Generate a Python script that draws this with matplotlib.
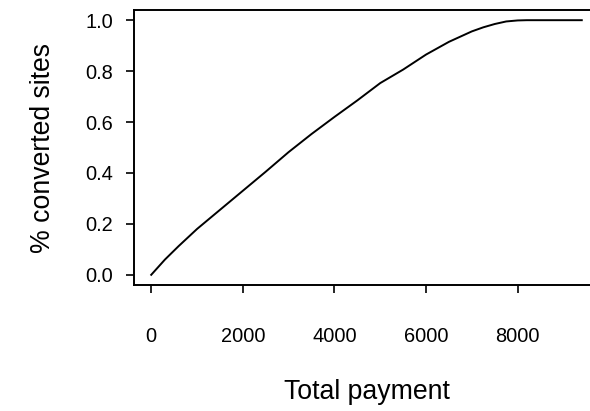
import matplotlib
matplotlib.use("Agg")
import matplotlib.pyplot as plt

plt.rcParams['font.family'] = ['Liberation Sans', 'DejaVu Sans']

payment = [0, 300, 600, 1000, 1500, 2000, 2500, 3000, 3500, 4000, 4500,
           5000, 5500, 6000, 6500, 7000, 7250, 7500, 7750, 8000, 8200, 9400]
converted = [0.0, 0.06, 0.113, 0.18, 0.255, 0.33, 0.405, 0.482, 0.553, 0.62, 0.685,
             0.753, 0.806, 0.865, 0.915, 0.956, 0.972, 0.985, 0.995, 0.999, 1.0, 1.0]
xticks = [0, 2000, 4000, 6000, 8000]
yticks = [0.0, 0.2, 0.4, 0.6, 0.8, 1.0]

fig = plt.figure(figsize=(5.9, 4.11), dpi=100)
ax = fig.add_axes([134/590, 1 - 285/411, (599 - 134)/590, (285 - 10)/411])

ax.plot(payment, converted, color='black', lw=1.4)

# R style 4% padding
xr = max(payment) - min(payment)
ax.set_xlim(min(payment) - 0.04*xr, max(payment) + 0.04*xr)
ax.set_ylim(-0.04, 1.04)

ax.set_xticks(xticks)
ax.set_yticks(yticks)
ax.set_yticklabels([f"{v:.1f}" for v in yticks])
ax.tick_params(axis='both', direction='out', length=6, width=1.2, labelsize=14.4)
ax.tick_params(axis='x', pad=24)
ax.tick_params(axis='y', pad=9)
for s in ax.spines.values():
    s.set_linewidth(1.4)

ax.set_xlabel('Total payment', fontsize=19.2, labelpad=24)
ax.set_ylabel('% converted sites', fontsize=19.2, labelpad=21)

fig.savefig('out.png', dpi=100)
